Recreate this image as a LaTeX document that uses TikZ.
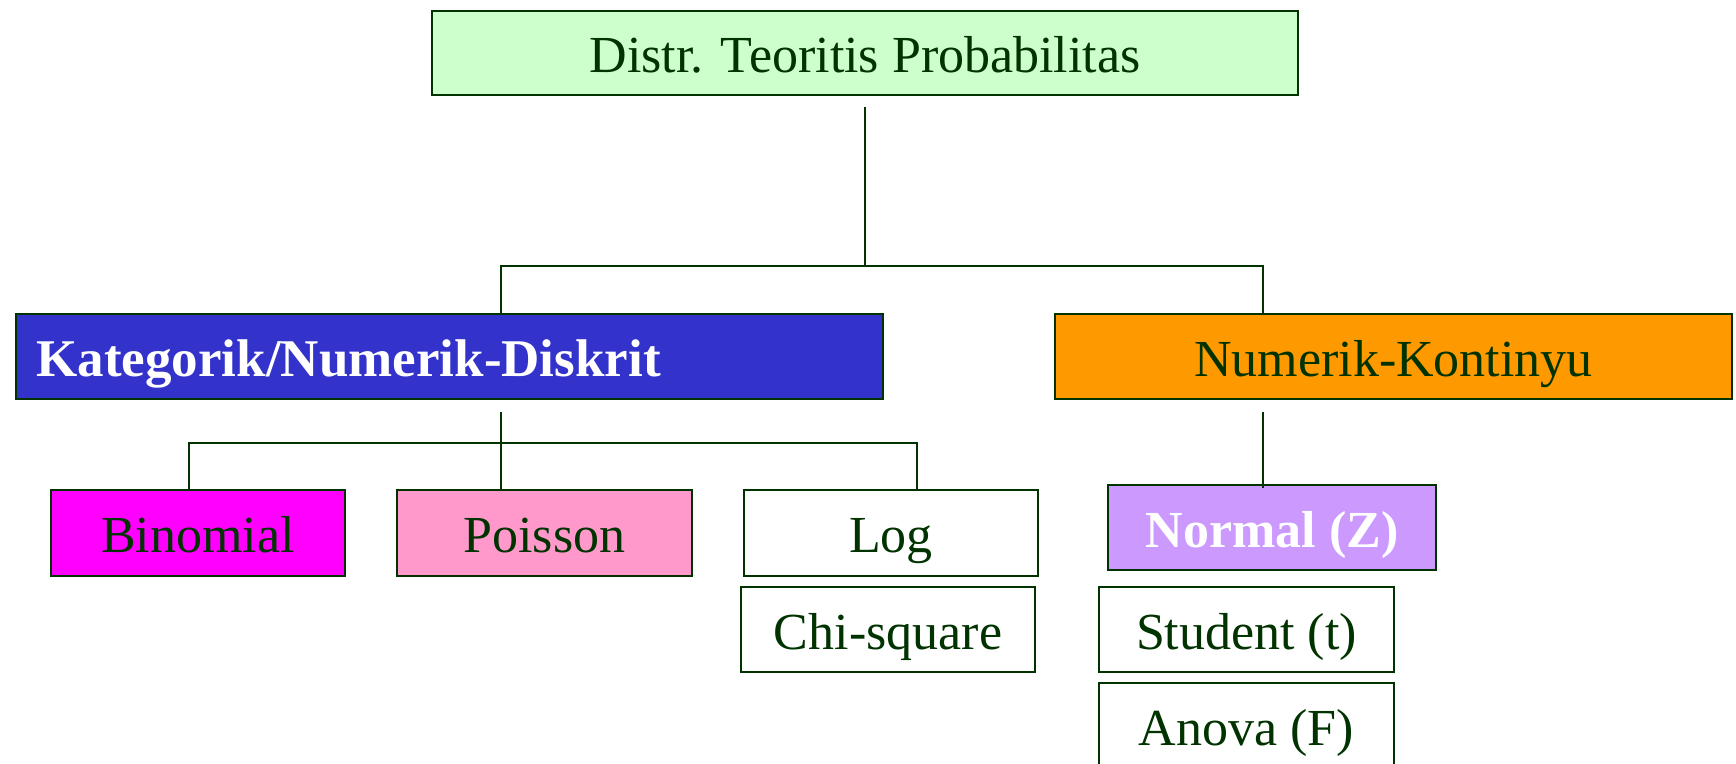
\documentclass[tikz,border=0pt]{standalone}
\usepackage{fontspec}
\setmainfont{Liberation Serif}
\definecolor{txt}{HTML}{003300}
\definecolor{ln}{HTML}{003300}
\definecolor{topfill}{HTML}{CCFFCC}
\definecolor{katfill}{HTML}{3333CC}
\definecolor{numfill}{HTML}{FF9900}
\definecolor{binfill}{HTML}{FF00FF}
\definecolor{poifill}{HTML}{FF99CC}
\definecolor{norfill}{HTML}{CC99FF}
\begin{document}
\begin{tikzpicture}[x=0.5pt,y=-0.5pt,
  box/.style={draw=ln,line width=1pt,inner sep=0pt,text=txt,
    font=\fontsize{26}{31}\selectfont,text height=21pt,text depth=1.3pt},
  conn/.style={draw=ln,line width=1pt}]
\useasboundingbox (0,0) rectangle (1736,764);
\node[box,fill=topfill,minimum width=433pt,minimum height=42pt] (top) at (865,53) {Distr. Teoritis Probabilitas};
\node[box,fill=katfill,text=white,minimum width=433.5pt,minimum height=42.5pt,
  font=\fontsize{26.5}{31}\selectfont\bfseries,text width=412.5pt,align=left,inner xsep=10.5pt] (kat) at (449,356.5) {Kategorik/Numerik-Diskrit};
\node[box,fill=numfill,minimum width=338.5pt,minimum height=42.5pt] (num) at (1393.5,356.5) {Numerik-Kontinyu};
\node[box,fill=binfill,minimum width=147pt,minimum height=43pt] (bin) at (198,533) {Binomial};
\node[box,fill=poifill,minimum width=147.5pt,minimum height=43pt] (poi) at (544.5,533) {Poisson};
\node[box,fill=white,minimum width=147pt,minimum height=43pt] (log) at (891,533) {Log};
\node[box,fill=white,minimum width=147pt,minimum height=42.5pt] (chi) at (888,629.5) {Chi-square};
\node[box,fill=norfill,text=white,font=\fontsize{26}{31}\selectfont\bfseries,minimum width=164pt,minimum height=42.5pt] (nor) at (1272,527.5) {Normal (Z)};
\node[box,fill=white,minimum width=147.5pt,minimum height=42.5pt] (stu) at (1246.5,629.5) {Student (t)};
\node[box,fill=white,minimum width=147.5pt,minimum height=42.5pt] (ano) at (1246.5,725.5) {Anova (F)};
% junction coordinates
\coordinate (t0) at (865,107);
\coordinate (j1) at (865,266);
\coordinate (jl) at (501,266);
\coordinate (jr) at (1263,266);
\coordinate (k0) at (501,412);
\coordinate (j2) at (501,443);
\coordinate (jb) at (189,443);
\coordinate (jg) at (917,443);
\coordinate (n0) at (1263,412);
\draw[conn] (t0) -- (j1);
\draw[conn] (jl |- kat.north) -- (jl) -- (jr) -- (jr |- num.north);
\draw[conn] (k0) -- (k0 |- poi.north);
\draw[conn] (jb |- bin.north) -- (jb) -- (jg) -- (jg |- log.north);
\draw[conn] (n0) -- ([yshift=-2pt]n0 |- nor.north);
\end{tikzpicture}
\end{document}
